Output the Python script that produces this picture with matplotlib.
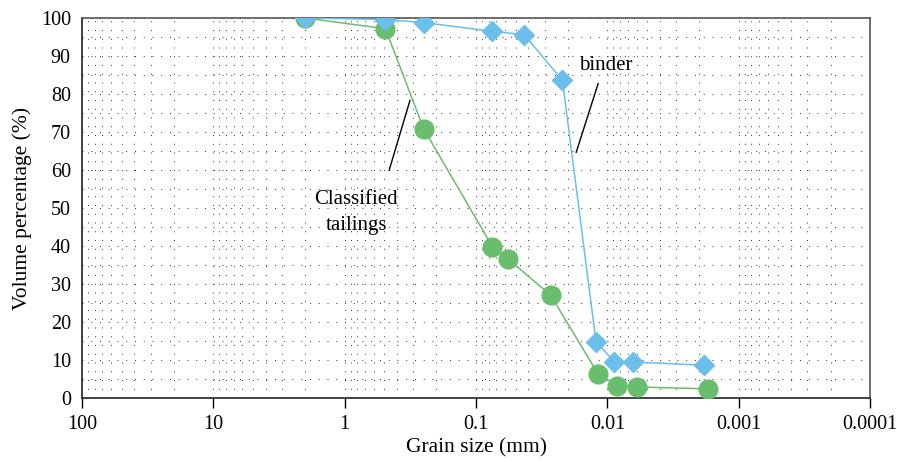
import numpy as np
import matplotlib.pyplot as plt
from matplotlib.ticker import LogLocator, FixedLocator, NullFormatter

# grain size (mm) vs cumulative volume (%)
tail_size = [2.0, 0.49, 0.25, 0.075, 0.057, 0.027, 0.0118, 0.0084, 0.0059, 0.0017]
tail_pct = [100, 97.2, 70.8, 39.8, 36.6, 27.0, 6.4, 3.2, 2.9, 2.4]

binder_size = [2.0, 0.49, 0.25, 0.075, 0.043, 0.022, 0.0122, 0.0089, 0.0064, 0.00183]
binder_pct = [100, 99.6, 98.8, 96.5, 95.6, 83.6, 14.8, 9.6, 9.5, 8.6]

xticks = [100, 10, 1, 0.1, 0.01, 0.001, 0.0001]
xtick_labels = ['100', '10', '1', '0.1', '0.01', '0.001', '0.0001']

plt.rcParams['font.family'] = ['Liberation Serif', 'DejaVu Serif']

fig = plt.figure(figsize=(8.97, 4.62), dpi=100)
ax = fig.add_axes([0.0914, 0.1385, 0.8786, 0.8225])

green = '#69BE6E'
blue = '#6BBFEA'

ax.plot(tail_size, tail_pct, '-o', color=green, lw=1.1, ms=13.5, zorder=3)
ax.plot(binder_size, binder_pct, '-D', color=blue, lw=1.1, ms=10, zorder=4)

ax.set_xscale('log')
ax.set_xlim(100, 0.0001)
ax.set_ylim(0, 100)

ax.xaxis.set_major_locator(FixedLocator(xticks))
ax.set_xticklabels(xtick_labels)
ax.xaxis.set_minor_locator(LogLocator(base=10, subs=np.arange(2, 10), numticks=20))
ax.xaxis.set_minor_formatter(NullFormatter())
ax.set_yticks(np.arange(0, 101, 10))
ax.set_yticks(np.arange(0, 101, 5), minor=True)

ax.grid(True, which='both', axis='both', color='#333333', linestyle=(0, (1, 8)), lw=0.7)
ax.set_axisbelow(True)

ax.tick_params(axis='x', which='major', direction='out', length=7, width=1, labelsize=14.5, pad=5)
ax.tick_params(axis='x', which='minor', length=0)
ax.tick_params(axis='y', which='both', length=0, labelsize=14.5, pad=8)

for s in ax.spines.values():
    s.set_linewidth(1.2)
    s.set_color('#222222')
ax.spines['top'].set_color('#555555')
ax.spines['right'].set_color('#555555')

ax.set_xlabel('Grain size (mm)', fontsize=15.5, labelpad=3)
ax.set_ylabel('Volume percentage (%)', fontsize=15.5, labelpad=6)

# leader lines and labels
ax.annotate('', xy=(0.01175, 82.8), xytext=(0.0173, 64.6),
            arrowprops=dict(arrowstyle='-', color='black', lw=1.0, shrinkA=0, shrinkB=0))
ax.text(0.0102, 87.6, 'binder', fontsize=15, ha='center', va='center')
ax.annotate('', xy=(0.318, 78.4), xytext=(0.459, 59.9),
            arrowprops=dict(arrowstyle='-', color='black', lw=1.0, shrinkA=0, shrinkB=0))
ax.text(0.82, 48.8, 'Classified\ntailings', fontsize=15, ha='center', va='center',
        linespacing=1.45)

fig.savefig('out.png', dpi=100)
